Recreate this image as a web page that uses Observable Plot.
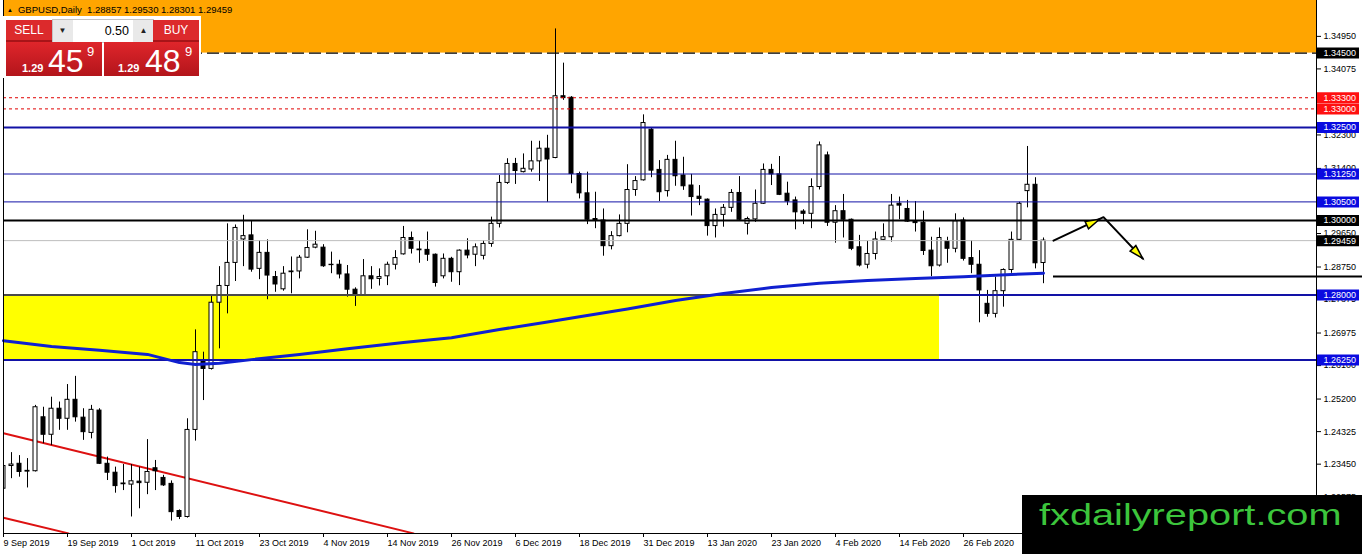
<!DOCTYPE html>
<html><head><meta charset="utf-8">
<script src="https://cdn.jsdelivr.net/npm/d3@7"></script>
<script src="https://cdn.jsdelivr.net/npm/@observablehq/plot@0.6"></script>
<style>
html,body{margin:0;padding:0;background:#fff;}
#wrap{position:relative;width:1362px;height:554px;overflow:hidden;font-family:'Liberation Sans',Arial,sans-serif;}
#chart svg{display:block;}
.abs{position:absolute;white-space:nowrap;}
#hdr{left:7px;top:4px;font-size:9.5px;line-height:12px;color:#000;}
#hdr .tri{font-size:6px;vertical-align:1px;margin-right:5px;}
#panel{left:3px;top:16px;width:198px;height:62px;background:#fff;}
.btn{background:#dc2a2c;color:#fff;font-size:12px;text-align:center;line-height:20px;border-bottom:2px solid #a81418;}
#lot{left:52px;top:19px;width:100px;height:22px;background:#e9e9e9;border:1px solid #c4c4c4;}
#lot .dn,#lot .up{position:absolute;top:0;width:19px;height:22px;text-align:center;font-size:8px;line-height:22px;color:#222;}
#lot .inp{position:absolute;left:20px;top:0;width:60px;height:22px;background:#fff;text-align:right;font-size:12.5px;line-height:22px;color:#000;box-sizing:border-box;padding-right:4px;}
.big{top:42px;height:34px;background:linear-gradient(#df262b,#b3151b);color:#fff;}
.big span{position:absolute;line-height:1;}
#wm{left:1022px;top:495px;width:340px;height:59px;background:#000;}
#wm span{position:absolute;left:17px;top:5.5px;font-size:29px;line-height:29px;color:#3cc53c;transform:scaleX(1.37);transform-origin:0 0;}
</style></head><body>
<div id="wrap">
<div id="chart"></div>
<div id="hdr" class="abs"><span class="tri">▲</span>GBPUSD,Daily&nbsp; 1.28857 1.29530 1.28301 1.29459</div>
<div id="panel" class="abs"></div>
<div class="abs btn" style="left:6px;top:20px;width:46px;height:20px;">SELL</div>
<div id="lot" class="abs"><div class="dn" style="left:0">▼</div><div class="inp">0.50</div><div class="up" style="left:81px">▲</div></div>
<div class="abs btn" style="left:153px;top:20px;width:46px;height:20px;">BUY</div>
<div class="abs big" style="left:6px;width:96px;"><span style="left:16px;top:20.7px;font-size:11px;font-weight:bold;">1.29</span><span style="left:42px;top:2.9px;font-size:32px;">45</span><span style="left:81px;top:3.3px;font-size:13px;">9</span></div>
<div class="abs big" style="left:104px;width:95px;"><span style="left:14px;top:20.7px;font-size:11px;font-weight:bold;">1.29</span><span style="left:41px;top:2.9px;font-size:32px;">48</span><span style="left:81px;top:3.3px;font-size:13px;">9</span></div>
<div id="wm" class="abs"><span>fxdailyreport.com</span></div>
</div>
<script>
// ---- data (GBPUSD daily, bar index 0 = 9 Sep 2019) ----
const opens = [1.2279,1.2340,1.2346,1.2327,1.2326,1.2471,1.2424,1.2494,1.2467,1.2518,
1.2470,1.2429,1.2489,1.2346,1.2322,1.2293,1.2290,1.2298,1.2295,1.2334,
1.2308,1.2292,1.2219,1.2203,1.2437,1.2622,1.2601,1.2779,1.2824,1.2886,
1.2949,1.2960,1.2870,1.2913,1.2848,1.2815,1.2861,1.2863,1.2900,1.2927,
1.2927,1.2881,1.2881,1.2855,1.2814,1.2798,1.2850,1.2843,1.2850,1.2881,
1.2909,1.2953,1.2922,1.2921,1.2908,1.2850,1.2897,1.2861,1.2919,1.2908,
1.2905,1.2937,1.2991,1.3101,1.3152,1.3130,1.3137,1.3159,1.3193,1.3168,
1.3334,1.3330,1.3125,1.3073,1.3004,1.3000,1.2931,1.2958,1.2991,1.3082,
1.3108,1.3244,1.3136,1.3079,1.3163,1.3121,1.3094,1.3064,1.3056,1.2985,
1.3015,1.3034,1.3074,1.2991,1.3003,1.3045,1.3136,1.3124,1.3072,1.3054,
1.3024,1.3018,1.3090,1.3175,1.2994,1.3025,1.3002,1.2928,1.2881,1.2910,
1.2948,1.2955,1.3045,1.3031,1.2998,1.2994,1.2919,1.2879,1.2944,1.2924,
1.3000,1.2899,1.2881,1.2776,1.2749,1.2810,1.2867,1.2948,1.3079,1.3096,
1.28857];
const highs = [1.2386,1.2376,1.2368,1.2360,1.2503,1.2498,1.2525,1.2512,1.2559,1.2581,
1.2494,1.2503,1.2494,1.2364,1.2337,1.2344,1.2344,1.2337,1.2411,1.2355,
1.2315,1.2300,1.2222,1.2467,1.2706,1.2646,1.2798,1.2876,1.2991,1.2988,
1.3014,1.3000,1.2946,1.2948,1.2863,1.2876,1.2902,1.2906,1.2975,1.2971,
1.2935,1.2915,1.2893,1.2879,1.2819,1.2895,1.2876,1.2870,1.2888,1.2919,
1.2984,1.2969,1.2946,1.2969,1.2910,1.2910,1.2901,1.2921,1.2951,1.2937,
1.2946,1.3009,1.3121,1.3166,1.3167,1.3179,1.3213,1.3213,1.3229,1.3515,
1.3423,1.3333,1.3130,1.3130,1.3076,1.3031,1.2970,1.3015,1.3150,1.3118,
1.3284,1.3250,1.3161,1.3175,1.3213,1.3170,1.3124,1.3094,1.3058,1.3031,
1.3043,1.3083,1.3118,1.3009,1.3082,1.3152,1.3151,1.3172,1.3103,1.3063,
1.3029,1.3112,1.3211,1.3184,1.3040,1.3070,1.3004,1.2960,1.2944,1.2969,
1.2991,1.3070,1.3063,1.3054,1.3051,1.3025,1.2955,1.2980,1.2955,1.3018,
1.3007,1.2946,1.2919,1.2812,1.2848,1.2870,1.2969,1.3049,1.3199,1.3115,
1.29530];
const lows = [1.2230,1.2306,1.2310,1.2281,1.2324,1.2400,1.2395,1.2436,1.2436,1.2458,
1.2409,1.2413,1.2344,1.2301,1.2267,1.2274,1.2203,1.2225,1.2263,1.2274,
1.2285,1.2192,1.2196,1.2200,1.2407,1.2516,1.2598,1.2655,1.2749,1.2836,
1.2876,1.2861,1.2841,1.2787,1.2807,1.2810,1.2803,1.2843,1.2898,1.2924,
1.2874,1.2857,1.2843,1.2794,1.2769,1.2796,1.2815,1.2824,1.2825,1.2867,
1.2907,1.2910,1.2885,1.2890,1.2821,1.2843,1.2834,1.2825,1.2897,1.2876,
1.2894,1.2928,1.2980,1.3097,1.3097,1.3128,1.3130,1.3105,1.3049,1.3166,
1.3323,1.3099,1.3058,1.2989,1.2978,1.2904,1.2921,1.2956,1.2967,1.3065,
1.3106,1.3115,1.3051,1.3063,1.3092,1.3081,1.3012,1.3040,1.2958,1.2953,
1.2982,1.3022,1.3000,1.2961,1.2995,1.3043,1.3094,1.3067,1.3040,1.2975,
1.2989,1.2978,1.3082,1.2984,1.2939,1.2953,1.2919,1.2875,1.2870,1.2894,
1.2946,1.2942,1.3002,1.2995,1.2969,1.2906,1.2849,1.2875,1.2885,1.2913,
1.2891,1.2857,1.2725,1.2740,1.2738,1.2767,1.2858,1.2946,1.3034,1.2870,
1.28301];
const closes = [1.2340,1.2344,1.2324,1.2325,1.2498,1.2424,1.2494,1.2467,1.2518,1.2471,
1.2431,1.2491,1.2346,1.2322,1.2286,1.2291,1.2299,1.2294,1.2324,1.2326,
1.2288,1.2216,1.2203,1.2437,1.2646,1.2601,1.2779,1.2824,1.2886,1.2980,
1.2958,1.2868,1.2913,1.2852,1.2828,1.2857,1.2863,1.2900,1.2926,1.2935,
1.2877,1.2880,1.2855,1.2814,1.2798,1.2850,1.2842,1.2848,1.2881,1.2899,
1.2953,1.2924,1.2920,1.2908,1.2832,1.2897,1.2861,1.2919,1.2906,1.2928,
1.2937,1.2991,1.3101,1.3152,1.3133,1.3139,1.3159,1.3193,1.3164,1.3334,
1.3329,1.3125,1.3073,1.3002,1.3000,1.2931,1.2958,1.2991,1.3082,1.3106,
1.3262,1.3134,1.3076,1.3163,1.3119,1.3092,1.3063,1.3058,1.2985,1.3015,
1.3034,1.3074,1.3002,1.3004,1.3045,1.3136,1.3124,1.3069,1.3051,1.3022,
1.3018,1.3090,1.3202,1.2994,1.3025,1.3002,1.2924,1.2879,1.2910,1.2949,
1.2955,1.3040,1.3040,1.2997,1.2993,1.2918,1.2877,1.2953,1.2924,1.2998,
1.2897,1.2881,1.2812,1.2749,1.2810,1.2867,1.2948,1.3045,1.3096,1.2885,
1.29459];

// moving average (blue) read at selected bars
const maBars   = [0,6,12,18,22,24,27,31,37,43,50,56,62,68,72,78,84,90,96,102,108,114,120,126,130];
const maValues = [1.2677,1.2661,1.2651,1.2640,1.2618,1.2613,1.2616,1.2626,1.2640,1.2655,1.2672,1.2685,1.2707,1.2727,1.2741,1.2762,1.2785,1.2804,1.2820,1.2831,1.2839,1.2844,1.2849,1.2855,1.2858];

// red down-channel lines [bar, price]
const channelUpper = [[0,1.2428],[51.25,1.2159]];
const channelLower = [[0,1.2201],[8.125,1.2159]];

// zones and levels
const orangeZoneLow = 1.345;
const yellowZone = [1.2625, 1.2800];
const yellowZoneEndBar = 117;
const dashedLevels = [1.345];
const redLevels = [1.333, 1.330];
const blueThickLevels = [1.325, 1.280, 1.2625];
const blueThinLevels = [1.3125, 1.305];
const blackLevels = [1.300];
const bidLevel = 1.29459;
const supportLine = {from: 131.25, price: 1.28495};

// projected path (arrows)
const arrowBars   = [131.25, 137.5, 142.4];
const arrowPrices = [1.2946, 1.3009, 1.2898];
const arrowHeadBars = [137.0, 142.4];
const arrowHeadPrices = [1.30035, 1.2898];
const arrowHeadAngles = [65, 136];

// axis ticks
const priceTicks = [1.34950,1.34075,1.32300,1.31400,1.29650,1.28750,1.27875,1.26975,1.26100,1.25200,1.24325,1.23450,1.22575];
const dateTickBars = [0,8,16,24,32,40,48,56,64,72,80,88,96,104,112,120];
const dateTickLabels = ["9 Sep 2019","19 Sep 2019","1 Oct 2019","11 Oct 2019","23 Oct 2019","4 Nov 2019","14 Nov 2019","26 Nov 2019","6 Dec 2019","18 Dec 2019","31 Dec 2019","13 Jan 2020","23 Jan 2020","4 Feb 2020","14 Feb 2020","26 Feb 2020"];

// ---- build ----
const candles = opens.map((o, i) => ({i, o, h: highs[i], l: lows[i], c: closes[i]}));
const ma = maBars.map((b, k) => ({i: b, p: maValues[k]}));
const toPts = arr => arr.map(([i, p]) => ({i, p}));
const arrowPath = arrowBars.map((b, k) => ({i: b, p: arrowPrices[k]}));
const arrowHeads = arrowHeadBars.map((b, k) => ({i: b, p: arrowHeadPrices[k], a: arrowHeadAngles[k]}));

const X_MAX = 164.125;            // bars across the plotting area
const Y_MIN = 1.21586, Y_MAX = 1.35914;
const BOX_X1 = X_MAX + 0.125, BOX_X2 = X_MAX + 5.375, EDGE = X_MAX + 5.75;

const NAVY = "#1212a6", BOXBLUE = "#0a0ae0", RED = "#e00000";
const boxLabels = [
  ...dashedLevels.map(v => ({v, bg: "#000"})),
  ...redLevels.map(v => ({v, bg: "#ff1010"})),
  ...blueThickLevels.map(v => ({v, bg: BOXBLUE})),
  ...blueThinLevels.map(v => ({v, bg: BOXBLUE})),
  ...blackLevels.map(v => ({v, bg: "#000"})),
  {v: bidLevel, bg: "#000"}
];

const arrowHeadSymbol = {draw(ctx) { ctx.moveTo(0, 0); ctx.lineTo(4, 14); ctx.lineTo(-4, 14); ctx.closePath(); }};

const chart = Plot.plot({
  width: 1362, height: 554,
  marginLeft: 3, marginRight: 46, marginTop: 0, marginBottom: 21,
  x: {domain: [0, X_MAX]},
  y: {domain: [Y_MIN, Y_MAX]},
  style: {fontFamily: "'Liberation Sans', Arial, sans-serif", fontSize: "9px", color: "#000", background: "#fff", overflow: "visible"},
  marks: [
    Plot.rect([0], {x1: 0, x2: X_MAX, y1: orangeZoneLow, y2: Y_MAX, fill: "#ffa500"}),
    Plot.rect([0], {x1: 0, x2: yellowZoneEndBar, y1: yellowZone[0], y2: yellowZone[1], fill: "#ffff00"}),
    Plot.line(toPts(channelUpper), {x: "i", y: "p", stroke: "#dd1111", strokeWidth: 2, clip: true}),
    Plot.line(toPts(channelLower), {x: "i", y: "p", stroke: "#dd1111", strokeWidth: 2, clip: true}),
    Plot.ruleX(candles, {x: "i", y1: "l", y2: "h", stroke: "#000", strokeWidth: 1, clip: true}),
    Plot.rect(candles, {x1: d => d.i - 0.25, x2: d => d.i + 0.25, y1: "o", y2: "c",
      fill: d => d.c >= d.o ? "#fff" : "#000", stroke: "#000", strokeWidth: 1, clip: true}),
    Plot.ruleY(dashedLevels, {stroke: "#000", strokeWidth: 1.3, strokeDasharray: "12,5"}),
    Plot.ruleY(redLevels, {stroke: RED, strokeWidth: 1, strokeDasharray: "3,3"}),
    Plot.ruleY(blueThinLevels, {stroke: NAVY, strokeWidth: 1}),
    Plot.ruleY([bidLevel], {stroke: "#bdbdbd", strokeWidth: 1}),
    Plot.ruleY(blueThickLevels, {stroke: NAVY, strokeWidth: 2}),
    Plot.ruleY([yellowZone[1]], {x1: 0, x2: yellowZoneEndBar, stroke: "#4a4a4a", strokeWidth: 2}),
    Plot.ruleY(blackLevels, {stroke: "#000", strokeWidth: 2}),
    Plot.line(ma, {x: "i", y: "p", stroke: "#1020d0", strokeWidth: 3}),
    Plot.ruleY([supportLine.price], {x1: supportLine.from, x2: EDGE, stroke: "#000", strokeWidth: 2}),
    Plot.line(arrowPath, {x: "i", y: "p", stroke: "#000", strokeWidth: 2}),
    Plot.dot(arrowHeads, {x: "i", y: "p", rotate: "a", symbol: arrowHeadSymbol, fill: "#ffff00", stroke: "#000", strokeWidth: 1.5}),
    // frame
    Plot.ruleX([0], {stroke: "#000"}),
    Plot.ruleX([X_MAX], {stroke: "#000"}),
    Plot.ruleY([Y_MIN], {stroke: "#000"}),
    Plot.axisY({anchor: "right", ticks: priceTicks, tickFormat: d => d.toFixed(5), tickSize: 4, tickPadding: 3, fontSize: 9}),
    Plot.axisX({anchor: "bottom", ticks: dateTickBars, tickFormat: d => dateTickLabels[dateTickBars.indexOf(d)], tickSize: 4, tickPadding: 2, textAnchor: "start", dx: 0, fontSize: 9}),
    // level label boxes
    Plot.ruleY(boxLabels, {y: "v", x1: BOX_X1, x2: BOX_X2, stroke: "bg", strokeWidth: 11}),
    Plot.text(boxLabels, {y: "v", text: d => d.v.toFixed(5), frameAnchor: "right", dx: 7, textAnchor: "start", fill: "#fff", fontSize: 9})
  ]
});
document.getElementById("chart").appendChild(chart);
</script>
</body></html>
